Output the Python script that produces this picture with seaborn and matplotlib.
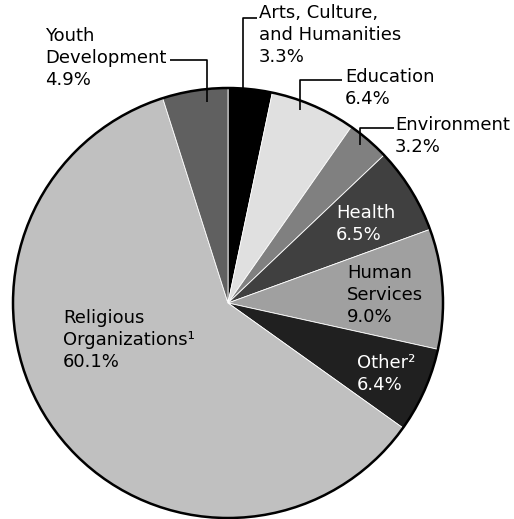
import matplotlib
matplotlib.use("Agg")
import matplotlib.pyplot as plt
import seaborn as sns
import numpy as np

sns.set_theme(style="white")
plt.rcParams['font.family'] = ['DejaVu Sans']

# ---- data ----
categories = ["Arts, Culture,\nand Humanities", "Education", "Environment", "Health",
              "Human\nServices", "Other\u00b2", "Religious\nOrganizations\u00b9", "Youth\nDevelopment"]
values = [3.3, 6.4, 3.2, 6.5, 9.0, 6.4, 60.1, 4.9]
colors = ["#000000", "#e0e0e0", "#808080", "#404040", "#a0a0a0", "#202020", "#c0c0c0", "#606060"]

W, H = 514, 519
fig = plt.figure(figsize=(W / 100, H / 100), dpi=100)
ax = fig.add_axes([0, 0, 1, 1])

def Y(y):
    return H - y

cx, cy, R = 228, 303, 215
ax.pie(values, colors=colors, startangle=90, counterclock=False,
       center=(cx, Y(cy)), radius=R, frame=True,
       wedgeprops=dict(linewidth=0.6, edgecolor="#ffffff"))
ax.set_xlim(0, W)
ax.set_ylim(0, H)
ax.axis("off")
circle = plt.Circle((cx, Y(cy)), R, fill=False, edgecolor="black", linewidth=1.8)
ax.add_patch(circle)

fs = 13
ls = 1.3

def label(i, x, y, color="black"):
    txt = f"{categories[i]}\n{values[i]:.1f}%"
    ax.text(x, Y(y), txt, fontsize=fs, color=color, ha="left", va="top", linespacing=ls)

label(7, 45, 27)
label(0, 259, 4)
label(1, 345, 68)
label(2, 395, 116)
label(3, 336, 204, color="white")
label(4, 347, 264)
label(5, 357, 354, color="white")
label(6, 63, 309)

lk = dict(color="black", linewidth=1.2, solid_capstyle="butt")
# leader lines (pixel positions)
ax.plot([170, 207, 207], [Y(60), Y(60), Y(102)], **lk)
ax.plot([257, 243, 243], [Y(18), Y(18), Y(88)], **lk)
ax.plot([342, 300, 300], [Y(80), Y(80), Y(110)], **lk)
ax.plot([394, 360, 360], [Y(128), Y(128), Y(145)], **lk)

fig.savefig("out.png", dpi=100, facecolor="white")
